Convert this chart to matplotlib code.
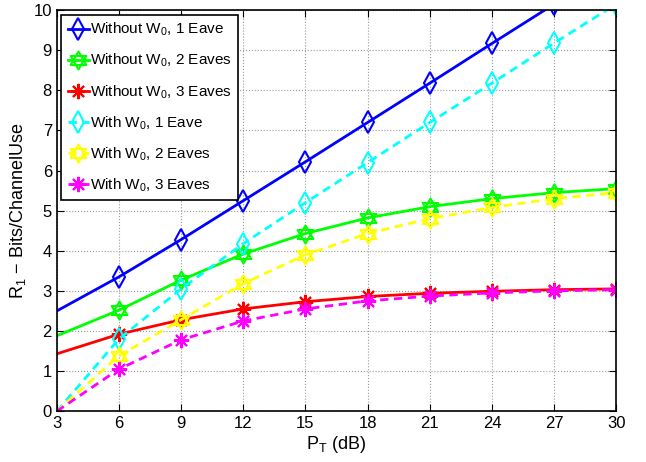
import numpy as np
import matplotlib
matplotlib.use("Agg")
import matplotlib.pyplot as plt
from matplotlib.path import Path

# data
pt_db = [3, 6, 9, 12, 15, 18, 21, 24, 27, 30]
wo_1eave = [2.50, 3.35, 4.28, 5.25, 6.22, 7.20, 8.18, 9.17, 10.15, 11.12]
wo_2eaves = [1.88, 2.52, 3.27, 3.92, 4.43, 4.82, 5.10, 5.30, 5.45, 5.55]
wo_3eaves = [1.43, 1.92, 2.28, 2.55, 2.73, 2.86, 2.94, 2.99, 3.03, 3.05]
w_1eave = [0.0, 1.80, 3.05, 4.18, 5.20, 6.20, 7.20, 8.18, 9.18, 10.15]
w_2eaves = [0.0, 1.38, 2.28, 3.18, 3.90, 4.43, 4.80, 5.08, 5.30, 5.45]
w_3eaves = [0.0, 1.05, 1.78, 2.25, 2.55, 2.75, 2.87, 2.95, 3.00, 3.03]
labels = [
    "Without W$_0$, 1 Eave",
    "Without W$_0$, 2 Eaves",
    "Without W$_0$, 3 Eaves",
    "With W$_0$, 1 Eave",
    "With W$_0$, 2 Eaves",
    "With W$_0$, 3 Eaves",
]

plt.rcParams['font.family'] = ['Liberation Sans', 'DejaVu Sans']
plt.rcParams['mathtext.fontset'] = 'custom'
plt.rcParams['mathtext.rm'] = 'Liberation Sans'
plt.rcParams['mathtext.it'] = 'Liberation Sans'


def hexagram():
    # MATLAB style hexagram: two overlapping triangles
    a = np.deg2rad([90, 210, 330, 90])
    b = np.deg2rad([270, 30, 150, 270])
    verts = list(zip(np.cos(a), np.sin(a))) + list(zip(np.cos(b), np.sin(b)))
    codes = [Path.MOVETO, Path.LINETO, Path.LINETO, Path.CLOSEPOLY] * 2
    return Path(verts, codes)


hexa = hexagram()
styles = [
    (wo_1eave, 'blue', '-', 'd', 11),
    (wo_2eaves, '#00ff00', '-', hexa, 13),
    (wo_3eaves, 'red', '-', (8, 2, 0), 11),
    (w_1eave, 'cyan', '--', 'd', 11),
    (w_2eaves, 'yellow', '--', hexa, 13),
    (w_3eaves, 'magenta', '--', (8, 2, 0), 11),
]

fig = plt.figure(figsize=(6.46, 4.62), dpi=100)
ax = fig.add_axes([0.088, 0.110, 0.866, 0.868])

for (vals, col, ls, mk, ms), lab in zip(styles, labels):
    ax.plot(pt_db, vals, color=col, linestyle=ls, linewidth=2,
            marker=mk, markersize=ms, markerfacecolor='none',
            markeredgecolor=col, markeredgewidth=1.5,
            markevery=list(range(1, len(pt_db))), label=lab,
            dashes=(3, 2) if ls == '--' else (None, None))

ax.set_xlim(3, 30)
ax.set_ylim(0, 10)
ax.set_xticks(pt_db)
ax.set_yticks(range(0, 11))
ax.tick_params(direction='in', top=True, right=True, labelsize=12, length=5)
ax.grid(True, linestyle=':', color='#999999', linewidth=0.8)
for s in ax.spines.values():
    s.set_linewidth(1.2)

ax.set_xlabel("P$_\\mathrm{T}$ (dB)", fontsize=13, labelpad=2)
ax.set_ylabel("R$_1$ \u2212 Bits/ChannelUse", fontsize=13, labelpad=4)

leg = ax.legend(loc='upper left', fontsize=11, fancybox=False,
                edgecolor='black', framealpha=1, handlelength=1.4,
                handletextpad=0.1, labelspacing=0.9, borderaxespad=0.3,
                borderpad=0.4)
leg.get_frame().set_linewidth(1.2)

fig.savefig("out.png", dpi=100)
